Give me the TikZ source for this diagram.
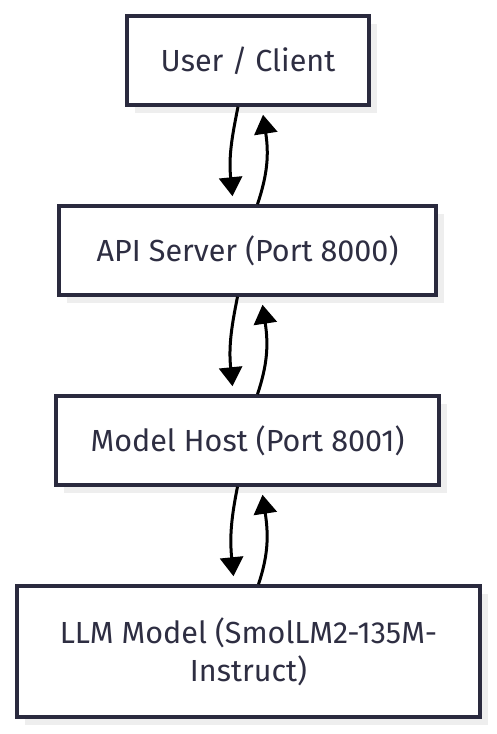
\documentclass[tikz,border=0pt]{standalone}
\usepackage{fontspec}
\setmainfont{Fira Sans}
\usetikzlibrary{arrows.meta,shadows}
\definecolor{boxline}{HTML}{2A2A3E}
\definecolor{boxtext}{HTML}{2E2E42}
\definecolor{shade}{HTML}{EEEEEE}

\begin{document}
\begin{tikzpicture}[x=1pt,y=-1pt,
    stage/.style={draw=boxline, line width=3.5pt, fill=white, text=boxtext,
      align=center, inner sep=0pt, font=\fontsize{30.5}{38}\selectfont,
      drop shadow={shadow xshift=8pt, shadow yshift=-8pt, fill=shade, opacity=1}},
    flow/.style={line width=3pt, -{Triangle[length=19pt,width=23pt]}}]
      \useasboundingbox (0,0) rectangle (496,734);
      \node[stage, minimum width=242pt, minimum height=89pt] (user) at (248,60.5) {User / Client};
      \node[stage, minimum width=377pt, minimum height=89pt] (api) at (247.5,250.5) {API Server (Port 8000)};
      \node[stage, minimum width=383pt, minimum height=89pt] (host) at (247.5,440.5) {Model Host (Port 8001)};
      \node[stage, minimum width=463pt, minimum height=131pt] (llm) at (248.5,651.5) {LLM Model (SmolLM2-135M-\\Instruct)};
      % request goes down, reply comes back up
      \draw[flow] ([xshift=-10pt]user.south) .. controls +(-6,30) and +(-4,-40) .. ([xshift=-15pt,yshift=8pt]api.north);
      \draw[flow] ([xshift=10pt]api.north) .. controls +(10,-30) and +(6,40) .. ([xshift=15pt,yshift=-8pt]user.south);
      \draw[flow] ([xshift=-10pt]api.south) .. controls +(-6,30) and +(-4,-40) .. ([xshift=-15pt,yshift=8pt]host.north);
      \draw[flow] ([xshift=10pt]host.north) .. controls +(10,-30) and +(6,40) .. ([xshift=15pt,yshift=-8pt]api.south);
      \draw[flow] ([xshift=-10pt]host.south) .. controls +(-6,30) and +(-4,-40) .. ([xshift=-15pt,yshift=8pt]llm.north);
      \draw[flow] ([xshift=10pt]llm.north) .. controls +(10,-30) and +(6,40) .. ([xshift=15pt,yshift=-8pt]host.south);
    \end{tikzpicture}
\end{document}
